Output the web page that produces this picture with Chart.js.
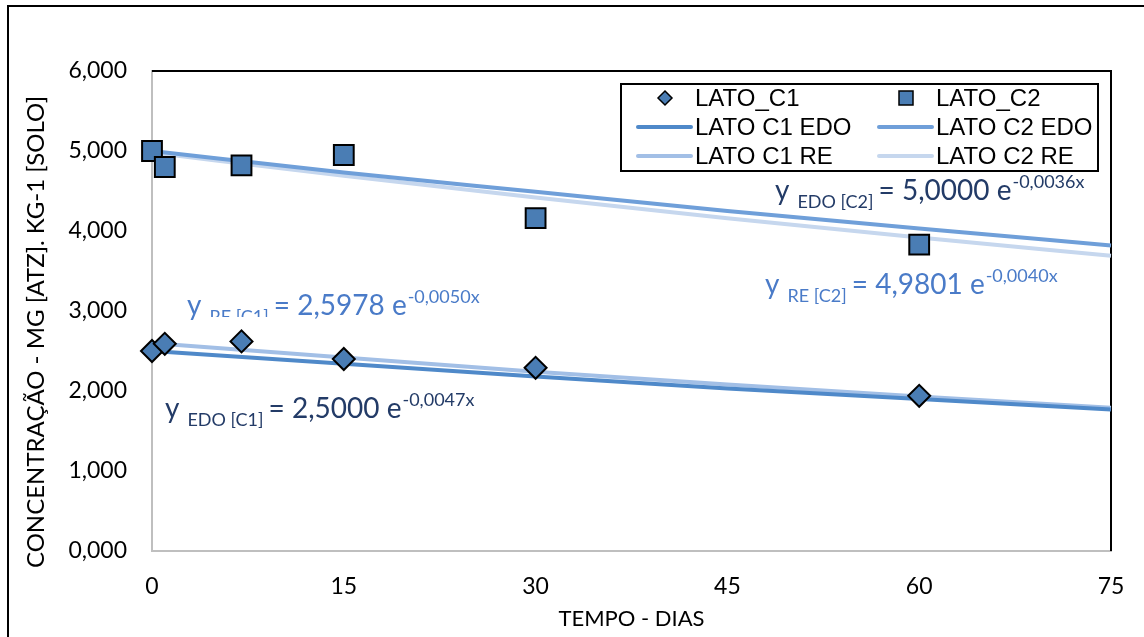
<!DOCTYPE html>
<html lang="pt">
<head>
<meta charset="UTF-8">
<title>LATO C1 / C2</title>
<script src="https://cdn.jsdelivr.net/npm/chart.js"></script>
<style>
  html, body { margin: 0; padding: 0; background: #fff; overflow: hidden; }
  #wrap { position: relative; width: 1144px; height: 637px; }
</style>
</head>
<body>
<div id="wrap"><canvas id="chart"></canvas></div>
<script>
// measured points
const days = [0, 1, 7, 15, 30, 60];
const latoC1 = [2.50, 2.59, 2.62, 2.40, 2.29, 1.94];
const latoC2 = [5.00, 4.80, 4.82, 4.95, 4.16, 3.83];

// fitted curves, every 15 days
const curveDays = [0, 15, 30, 45, 60, 75];
const c1Edo = [2.50, 2.34, 2.18, 2.03, 1.90, 1.77];
const c2Edo = [5.00, 4.73, 4.49, 4.25, 4.03, 3.82];
const c1Re  = [2.60, 2.42, 2.24, 2.08, 1.93, 1.79];
const c2Re  = [4.98, 4.69, 4.42, 4.16, 3.92, 3.69];

const xTicks = [0, 15, 30, 45, 60, 75];
const yTicks = [0, 1, 2, 3, 4, 5, 6];

const seriesNames = ['LATO_C1', 'LATO_C2', 'LATO C1 EDO', 'LATO C2 EDO', 'LATO C1 RE', 'LATO C2 RE'];
const yTitle = 'CONCENTRAÇÃO - MG [ATZ]. KG-1 [SOLO]';

const equations = [
    { sub: 'EDO [C2]', coef: '5,0000', exp: '-0,0036x', color: '#233b67', x: 775, y: 200 },
    { sub: 'RE [C2]',  coef: '4,9801', exp: '-0,0040x', color: '#4a7bc8', x: 765, y: 294 },
    { sub: 'RE [C1]',  coef: '2,5978', exp: '-0,0050x', color: '#4a7bc8', x: 187, y: 315, clip: 317 },
    { sub: 'EDO [C1]', coef: '2,5000', exp: '-0,0047x', color: '#233b67', x: 165, y: 418 }
];

const toPts = (xs, ys) => xs.map((x, i) => ({ x: x, y: ys[i] }));
const markerFill = '#4a7db4';
const FONT = 'Lato';

function curve(label, data, color) {
    return {
        type: 'line', label: label, data: toPts(curveDays, data),
        borderColor: color, backgroundColor: color, borderWidth: 4,
        pointRadius: 0, cubicInterpolationMode: 'monotone', clip: false
    };
}

// plot border, outer frame, y title, legend and equation labels
const decorations = {
    id: 'decorations',
    beforeDatasetsDraw(chart) {
        const ctx = chart.ctx, a = chart.chartArea;
        ctx.save();
        ctx.strokeStyle = '#000';
        ctx.lineWidth = 2;
        ctx.beginPath();
        ctx.moveTo(a.left, a.top);
        ctx.lineTo(a.right, a.top);
        ctx.lineTo(a.right, a.bottom);
        ctx.stroke();
        ctx.restore();
    },
    afterDraw(chart) {
        const ctx = chart.ctx;
        ctx.save();
        // outer frame (only left/top edges fall inside the window)
        ctx.strokeStyle = '#000';
        ctx.lineWidth = 2;
        ctx.beginPath();
        ctx.moveTo(8, 640);
        ctx.lineTo(8, 6);
        ctx.lineTo(1150, 6);
        ctx.stroke();

        // y axis title
        ctx.save();
        ctx.translate(36, 332);
        ctx.rotate(-Math.PI / 2);
        ctx.fillStyle = '#000';
        ctx.font = '24px ' + FONT;
        ctx.textAlign = 'center';
        ctx.textBaseline = 'middle';
        ctx.fillText(yTitle, 0, 0);
        ctx.restore();

        // legend
        const box = { x: 621, y: 84, w: 477, h: 87 };
        ctx.fillStyle = '#fff';
        ctx.fillRect(box.x, box.y, box.w, box.h);
        ctx.lineWidth = 2;
        ctx.strokeRect(box.x, box.y, box.w, box.h);
        const cols = [637, 878], rows = [98, 127, 156];
        chart.data.datasets.forEach((ds, i) => {
            const cx = cols[i % 2], cy = rows[Math.floor(i / 2)];
            const mid = cx + 28;
            if (ds.type === 'line') {
                ctx.strokeStyle = ds.borderColor;
                ctx.lineWidth = 4;
                ctx.lineCap = 'round';
                ctx.beginPath();
                ctx.moveTo(cx + 1, cy);
                ctx.lineTo(cx + 54, cy);
                ctx.stroke();
            } else {
                ctx.fillStyle = markerFill;
                ctx.strokeStyle = '#000';
                ctx.lineWidth = 1.5;
                ctx.beginPath();
                if (ds.pointStyle === 'rectRot') {
                    ctx.moveTo(mid, cy - 7); ctx.lineTo(mid + 7, cy);
                    ctx.lineTo(mid, cy + 7); ctx.lineTo(mid - 7, cy);
                    ctx.closePath();
                } else {
                    ctx.rect(mid - 7, cy - 7, 14, 14);
                }
                ctx.fill();
                ctx.stroke();
            }
            ctx.fillStyle = '#000';
            ctx.font = '24px "Liberation Sans"';
            ctx.textBaseline = 'middle';
            ctx.textAlign = 'left';
            ctx.fillText(ds.label, cx + 58, cy + 1);
        });

        // equations
        ctx.textBaseline = 'alphabetic';
        equations.forEach(eq => {
            ctx.save();
            ctx.fillStyle = eq.color;
            let x = eq.x;
            ctx.font = '28px ' + FONT;
            ctx.fillText('y', x, eq.y);
            x += ctx.measureText('y').width + 8;
            ctx.font = '18px ' + FONT;
            if (eq.clip) {
                ctx.save();
                ctx.beginPath();
                ctx.rect(x - 2, eq.y - 30, 200, eq.clip - (eq.y - 30));
                ctx.clip();
                ctx.fillText(eq.sub, x, eq.y + 8);
                ctx.restore();
            } else {
                ctx.fillText(eq.sub, x, eq.y + 8);
            }
            x += ctx.measureText(eq.sub).width + 5;
            ctx.font = '28px ' + FONT;
            const mainTxt = '= ' + eq.coef + ' e';
            ctx.fillText(mainTxt, x, eq.y);
            x += ctx.measureText(mainTxt).width + 1;
            ctx.font = '18px ' + FONT;
            ctx.fillText(eq.exp, x, eq.y - 12);
            ctx.restore();
        });
        ctx.restore();
    }
};

new Chart(document.getElementById('chart'), {
    type: 'scatter',
    data: {
        datasets: [
            { label: seriesNames[0], data: toPts(days, latoC1), pointStyle: 'rectRot', pointRadius: 11,
              backgroundColor: markerFill, borderColor: '#000', borderWidth: 2, showLine: false, clip: false },
            { label: seriesNames[1], data: toPts(days, latoC2), pointStyle: 'rect', pointRadius: 14,
              backgroundColor: markerFill, borderColor: '#000', borderWidth: 2, showLine: false, clip: false },
            curve(seriesNames[2], c1Edo, '#4f89c9'),
            curve(seriesNames[3], c2Edo, '#6f9fd9'),
            curve(seriesNames[4], c1Re, '#a2bfe6'),
            curve(seriesNames[5], c2Re, '#c6d7ee')
        ]
    },
    options: {
        responsive: true,
        maintainAspectRatio: false,
        animation: false,
        devicePixelRatio: 1,
        layout: { padding: { left: 0, top: 71, right: 33, bottom: 0 } },
        plugins: { legend: { display: false }, tooltip: { enabled: false } },
        scales: {
            x: {
                type: 'linear', min: 0, max: 75,
                afterBuildTicks: s => { s.ticks = xTicks.map(v => ({ value: v })); },
                afterFit: s => { s.height = 86; },
                grid: { display: false },
                border: { display: true, color: '#bfbfbf', width: 2 },
                ticks: { color: '#000', padding: 14, font: { family: FONT, size: 23 } },
                title: { display: true, text: 'TEMPO - DIAS', color: '#000',
                         font: { family: FONT, size: 22 }, padding: { top: 0, bottom: 5 } }
            },
            y: {
                type: 'linear', min: 0, max: 6,
                afterBuildTicks: s => { s.ticks = yTicks.map(v => ({ value: v })); },
                afterFit: s => { s.width = 152; },
                grid: { display: false },
                border: { display: true, color: '#bfbfbf', width: 2 },
                ticks: { color: '#000', padding: 17, font: { family: FONT, size: 23 },
                         callback: v => v.toFixed(3).replace('.', ',') },
                title: { display: false }
            }
        }
    },
    plugins: [decorations]
});
</script>
</body>
</html>
